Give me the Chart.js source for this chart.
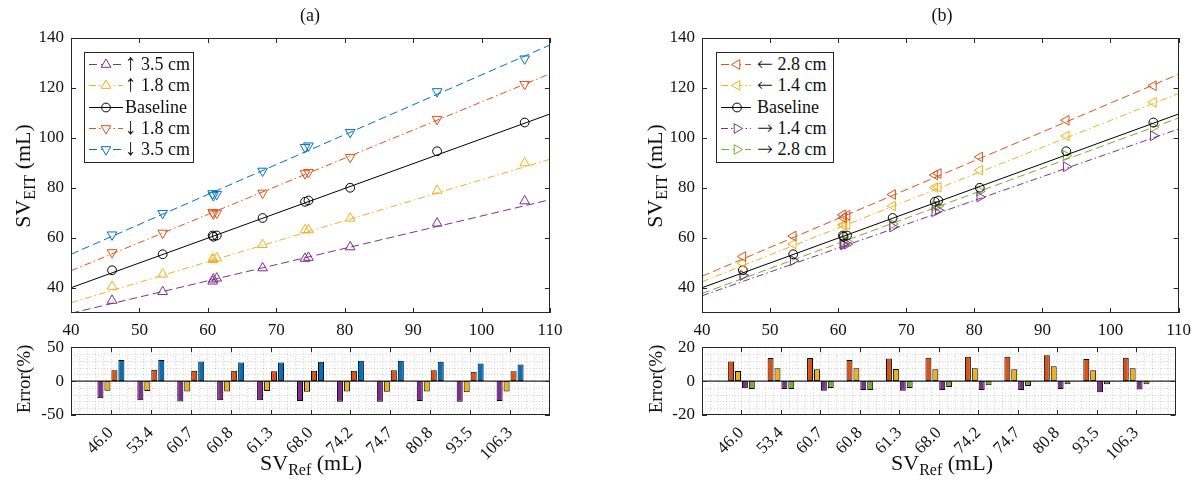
<!DOCTYPE html>
<html>
<head>
<meta charset="utf-8">
<script src="https://cdn.jsdelivr.net/npm/chart.js@4.4.1/dist/chart.umd.min.js"></script>
<style>
  body { margin:0; background:#fff; width:1198px; height:489px; position:relative; overflow:hidden;
         font-family:'Liberation Serif','Times New Roman',serif; color:#111; }
  canvas { position:absolute; }
  .t { position:absolute; white-space:nowrap; line-height:1; }
  .c { transform:translate(-50%,-50%); }
  .rot { transform:translate(-50%,-50%) rotate(-90deg); }
  .tit { font-size:18px; }
  .eje { font-size:22px; }
  .eje sub { font-size:16px; vertical-align:-5px; line-height:0; }
  .err { font-size:19px; }
  .leg { position:absolute; border:1px solid #262626; background:#fff; padding-top:1px; box-sizing:border-box; }
  .row { display:flex; align-items:center; height:21.3px; font-size:18px; white-space:nowrap; }
  .row svg { flex:none; }
  .fv { font-size:23px; line-height:0; }
  .fh { font-family:'DejaVu Sans',sans-serif; font-size:19px; line-height:0; font-weight:200; }
</style>
</head>
<body>
<canvas id="topA" width="600" height="340" style="left:0;top:0"></canvas>
<canvas id="errA" width="600" height="159" style="left:0;top:330px"></canvas>
<canvas id="topB" width="578" height="340" style="left:620px;top:0"></canvas>
<canvas id="errB" width="578" height="159" style="left:620px;top:330px"></canvas>

<div class="t c tit" style="left:310px;top:15px">(a)</div>
<div class="t c tit" style="left:942px;top:15px">(b)</div>
<div class="t rot eje" style="left:23px;top:176px">SV<sub>EIT</sub> (mL)</div>
<div class="t rot eje" style="left:655px;top:176px">SV<sub>EIT</sub> (mL)</div>
<div class="t rot err" style="left:23px;top:379px">Error(%)</div>
<div class="t rot err" style="left:655px;top:379px">Error(%)</div>
<div class="t c eje" style="left:311px;top:463px">SV<sub>Ref</sub> (mL)</div>
<div class="t c eje" style="left:942px;top:463px">SV<sub>Ref</sub> (mL)</div>

<div id="legA" class="leg" style="left:84px;top:52px;width:110px;height:111px"></div>
<div id="legB" class="leg" style="left:716px;top:52px;width:118px;height:111px"></div>

<script>
// valores
const svRef = [46.0, 53.4, 60.7, 60.8, 61.3, 68.0, 74.2, 74.7, 80.8, 93.5, 106.3];
const refLabels = ['46.0', '53.4', '60.7', '60.8', '61.3', '68.0', '74.2', '74.7', '80.8', '93.5', '106.3'];
const xTicksTop = [40, 50, 60, 70, 80, 90, 100, 110];
const yTicksTop = [40, 60, 80, 100, 120, 140];
const fitX = [40, 110];

const baseline = [47.1, 53.5, 61.0, 60.5, 61.0, 68.0, 74.5, 75.0, 80.1, 94.7, 106.2];
const fitBase = [40.1, 109.6];

// (a) desplazamiento vertical
const up35 = [35.0, 38.5, 42.7, 43.5, 43.9, 48.0, 51.8, 52.2, 56.4, 65.9, 74.8];
const up18 = [40.6, 45.5, 51.7, 51.3, 52.0, 57.3, 63.2, 63.2, 67.9, 79.0, 90.0];
const down18 = [54.2, 62.0, 70.3, 69.7, 70.0, 78.0, 85.8, 86.3, 92.3, 107.5, 121.5];
const down35 = [61.3, 69.9, 77.8, 77.0, 77.5, 86.8, 96.3, 96.9, 102.3, 118.6, 131.7];
const fitUp35 = [29.9, 75.3];
const fitUp18 = [34.1, 91.5];
const fitDown18 = [46.9, 125.7];
const fitDown35 = [53.5, 137.2];

const errUp35 = [-25.3, -28.1, -30.0, -28.1, -28.1, -29.5, -30.4, -30.4, -29.5, -30.4, -29.5];
const errUp18 = [-14.3, -14.7, -15.2, -15.2, -14.7, -15.7, -15.2, -15.7, -15.2, -16.6, -15.2];
const errDown18 = [16.1, 16.6, 15.2, 15.2, 14.7, 15.2, 15.2, 16.1, 16.1, 13.8, 14.7];
const errDown35 = [31.3, 31.3, 29.0, 27.6, 27.6, 28.6, 30.0, 30.0, 28.6, 25.8, 24.4];

// (b) desplazamiento horizontal
const left28 = [52.6, 60.8, 69.3, 68.1, 69.1, 77.4, 85.2, 85.8, 92.4, 107.1, 120.9];
const left14 = [49.9, 57.6, 65.3, 65.1, 65.4, 72.8, 80.2, 80.3, 87.1, 100.8, 114.3];
const right14 = [45.1, 51.0, 57.5, 57.3, 57.5, 64.4, 70.5, 71.1, 76.4, 88.5, 100.9];
const right28 = [44.9, 51.0, 58.6, 57.4, 58.6, 65.6, 72.7, 72.8, 78.7, 93.0, 104.3];
const fitLeft28 = [44.7, 125.5];
const fitLeft14 = [42.5, 117.8];
const fitRight14 = [36.9, 103.6];
const fitRight28 = [37.8, 108.0];

const errLeft28 = [11.6, 13.6, 13.6, 12.5, 13.3, 13.8, 14.4, 14.4, 15.3, 13.1, 13.8];
const errLeft14 = [5.9, 7.6, 7.0, 7.6, 7.2, 7.0, 7.6, 7.0, 8.8, 6.4, 7.6];
const errRight14 = [-4.2, -4.6, -5.7, -5.3, -5.7, -5.3, -5.3, -5.2, -4.6, -6.6, -5.0];
const errRight28 = [-4.6, -4.6, -4.0, -5.2, -4.0, -3.5, -2.4, -2.9, -1.8, -1.8, -1.8];

// colores matlab
const AZUL = '#0072BD', NARANJA = '#D95319', AMARILLO = '#EDB120', MORADO = '#7E2F8E', VERDE = '#77AC30';
const DASH = [8, 4], DASHDOT = [7, 3, 1.5, 3], SOLID = [];
const EJE = '#262626';
const FUENTE = "'Liberation Serif','Times New Roman',serif";

Chart.defaults.font.family = FUENTE;
Chart.defaults.font.size = 17;
Chart.defaults.color = '#111';

const seriesA = [
  { label: '↑ 3.5 cm', data: up35, fit: fitUp35, color: MORADO, marker: 'triangle', rot: 0, dash: DASH },
  { label: '↑ 1.8 cm', data: up18, fit: fitUp18, color: AMARILLO, marker: 'triangle', rot: 0, dash: DASHDOT },
  { label: 'Baseline', data: baseline, fit: fitBase, color: '#000', marker: 'circle', rot: 0, dash: SOLID },
  { label: '↓ 1.8 cm', data: down18, fit: fitDown18, color: NARANJA, marker: 'triangle', rot: 180, dash: DASHDOT },
  { label: '↓ 3.5 cm', data: down35, fit: fitDown35, color: AZUL, marker: 'triangle', rot: 180, dash: DASH }
];
const seriesB = [
  { label: '← 2.8 cm', data: left28, fit: fitLeft28, color: NARANJA, marker: 'triangle', rot: 270, dash: DASH },
  { label: '← 1.4 cm', data: left14, fit: fitLeft14, color: AMARILLO, marker: 'triangle', rot: 270, dash: DASHDOT },
  { label: 'Baseline', data: baseline, fit: fitBase, color: '#000', marker: 'circle', rot: 0, dash: SOLID },
  { label: '→ 1.4 cm', data: right14, fit: fitRight14, color: MORADO, marker: 'triangle', rot: 90, dash: DASHDOT },
  { label: '→ 2.8 cm', data: right28, fit: fitRight28, color: VERDE, marker: 'triangle', rot: 90, dash: DASH }
];
const barsA = [
  { label: '↑ 3.5 cm', err: errUp35, color: MORADO },
  { label: '↑ 1.8 cm', err: errUp18, color: AMARILLO },
  { label: '↓ 1.8 cm', err: errDown18, color: NARANJA },
  { label: '↓ 3.5 cm', err: errDown35, color: AZUL }
];
const barsB = [
  { label: '← 2.8 cm', err: errLeft28, color: NARANJA },
  { label: '← 1.4 cm', err: errLeft14, color: AMARILLO },
  { label: '→ 1.4 cm', err: errRight14, color: MORADO },
  { label: '→ 2.8 cm', err: errRight28, color: VERDE }
];

// caja con ticks hacia adentro (estilo matlab)
const cajaPlugin = {
  id: 'caja',
  afterDraw(chart) {
    const { ctx, chartArea: a, scales } = chart;
    const L = 5;
    ctx.save();
    ctx.strokeStyle = EJE;
    ctx.lineWidth = 1;
    ctx.beginPath();
    scales.x.ticks.forEach((t, i) => {
      if (t.label === '') return;
      const px = Math.round(scales.x.getPixelForTick(i)) + 0.5;
      ctx.moveTo(px, a.bottom); ctx.lineTo(px, a.bottom - L);
      ctx.moveTo(px, a.top); ctx.lineTo(px, a.top + L);
    });
    scales.y.ticks.forEach((t, i) => {
      const py = Math.round(scales.y.getPixelForTick(i)) + 0.5;
      ctx.moveTo(a.left, py); ctx.lineTo(a.left + L, py);
      ctx.moveTo(a.right, py); ctx.lineTo(a.right - L, py);
    });
    ctx.stroke();
    ctx.strokeRect(Math.round(a.left) + 0.5, Math.round(a.top) + 0.5, Math.round(a.width) - 1, Math.round(a.height) - 1);
    ctx.restore();
  }
};

function makeTop(id, series, anchoY, padDer) {
  const datasets = [];
  series.forEach(s => {
    datasets.push({
      type: 'line', label: s.label,
      data: fitX.map((x, i) => ({ x: x, y: s.fit[i] })),
      borderColor: s.color, borderWidth: 1, borderDash: s.dash, pointRadius: 0, fill: false
    });
    datasets.push({
      type: 'scatter', label: s.label,
      data: svRef.map((x, i) => ({ x: x, y: s.data[i] })),
      showLine: false,
      pointStyle: s.marker, pointRotation: s.rot,
      pointRadius: s.marker === 'circle' ? 4.4 : 5.6,
      pointBorderColor: s.color, pointBackgroundColor: 'rgba(0,0,0,0)', pointBorderWidth: 1
    });
  });
  new Chart(document.getElementById(id), {
    type: 'scatter',
    data: { datasets },
    options: {
      responsive: false, animation: false, events: [],
      layout: { padding: { top: 38, right: padDer, left: 0, bottom: 0 } },
      plugins: { legend: { display: false }, tooltip: { enabled: false } },
      scales: {
        x: {
          type: 'linear', min: 40, max: 110,
          afterBuildTicks: sc => { sc.ticks = xTicksTop.map(v => ({ value: v })); },
          afterFit: sc => { sc.height = 27; },
          grid: { display: false, drawTicks: false }, border: { display: false },
          ticks: { padding: 7, maxRotation: 0 }
        },
        y: {
          type: 'linear', min: 30, max: 140,
          afterBuildTicks: sc => { sc.ticks = yTicksTop.map(v => ({ value: v })); },
          afterFit: sc => { sc.width = anchoY; },
          grid: { display: false, drawTicks: false }, border: { display: false },
          ticks: { padding: 7 }
        }
      }
    },
    plugins: [cajaPlugin]
  });
}

function makeErr(id, series, yMin, yMax, yTicks, pasoMenor, anchoY, padDer) {
  const etiquetas = [''].concat(refLabels, ['']);
  const datasets = series.map(s => ({
    label: s.label,
    data: [null].concat(s.err, [null]),
    backgroundColor: s.color, borderColor: '#000', borderWidth: 1, borderSkipped: false,
    categoryPercentage: 0.7, barPercentage: 0.86
  }));
  // rejilla punteada menor + linea base en cero
  const rejilla = {
    id: 'rejilla',
    beforeDatasetsDraw(chart) {
      const { ctx, chartArea: a, scales } = chart;
      ctx.save();
      ctx.strokeStyle = 'rgba(0,0,0,0.17)';
      ctx.lineWidth = 1;
      ctx.setLineDash([1, 2]);
      ctx.beginPath();
      for (let v = yMin + pasoMenor; v < yMax - 1e-6; v += pasoMenor) {
        const py = Math.round(scales.y.getPixelForValue(v)) + 0.5;
        ctx.moveTo(a.left, py); ctx.lineTo(a.right, py);
      }
      for (let k = 1; k < 60; k++) {
        const px = Math.round(scales.x.getPixelForValue(k * 0.2)) + 0.5;
        ctx.moveTo(px, a.top); ctx.lineTo(px, a.bottom);
      }
      ctx.stroke();
      ctx.restore();
    },
    afterDatasetsDraw(chart) {
      const { ctx, chartArea: a, scales } = chart;
      const py = scales.y.getPixelForValue(0);
      ctx.save();
      ctx.strokeStyle = EJE;
      ctx.lineWidth = 1.4;
      ctx.beginPath(); ctx.moveTo(a.left, py); ctx.lineTo(a.right, py); ctx.stroke();
      ctx.restore();
    }
  };
  new Chart(document.getElementById(id), {
    type: 'bar',
    data: { labels: etiquetas, datasets },
    options: {
      responsive: false, animation: false, events: [],
      layout: { padding: { top: 13, right: padDer, left: 0, bottom: 0 } },
      plugins: { legend: { display: false }, tooltip: { enabled: false } },
      scales: {
        x: {
          type: 'category', offset: false,
          afterFit: sc => { sc.height = 74; },
          grid: { display: false, drawTicks: false }, border: { display: false },
          ticks: { autoSkip: false, minRotation: 45, maxRotation: 45, padding: 8 }
        },
        y: {
          type: 'linear', min: yMin, max: yMax,
          afterBuildTicks: sc => { sc.ticks = yTicks.map(v => ({ value: v })); },
          afterFit: sc => { sc.width = anchoY; },
          grid: { display: false, drawTicks: false }, border: { display: false },
          ticks: { padding: 7, callback: v => String(v) }
        }
      }
    },
    plugins: [rejilla, cajaPlugin]
  });
}

// leyenda html con muestra de linea y marcador
function makeLeyenda(id, series, anchoMuestra, finLinea, centroMarca) {
  const cont = document.getElementById(id);
  series.forEach(s => {
    const fila = document.createElement('div');
    fila.className = 'row';
    const dash = s.dash.length ? `stroke-dasharray="${s.dash.join(' ')}"` : '';
    let marca;
    if (s.marker === 'circle') {
      marca = `<circle cx="${centroMarca}" cy="10.5" r="4.4" fill="none" stroke="${s.color}" stroke-width="1"/>`;
    } else {
      const r = 5.6, cx = centroMarca, cy = 10.5;
      const p = [[cx, cy - r], [cx + r * 0.866, cy + r / 2], [cx - r * 0.866, cy + r / 2]].map(q => q.join(',')).join(' ');
      marca = `<polygon points="${p}" fill="#fff" stroke="${s.color}" stroke-width="1" transform="rotate(${s.rot} ${cx} ${cy})"/>`;
    }
    // flechas mas grandes, como en latex
    const texto = s.label
      .replace(/([↑↓])/, '<span class="fv">$1</span>')
      .replace(/([←→])/, '<span class="fh">$1</span>');
    fila.innerHTML = `<svg width="${anchoMuestra}" height="21"><line x1="4" y1="10.5" x2="${finLinea}" y2="10.5" stroke="${s.color}" stroke-width="1" ${dash}/>${marca}</svg><span>${texto}</span>`;
    cont.appendChild(fila);
  });
}

makeTop('topA', seriesA, 71, 50);
makeTop('topB', seriesB, 82, 16);
makeErr('errA', barsA, -50, 50, [-50, 0, 50], 10, 71, 50);
makeErr('errB', barsB, -20, 20, [-20, 0, 20], 4, 82, 16);
makeLeyenda('legA', seriesA, 40, 38, 21);
makeLeyenda('legB', seriesB, 40, 34, 20);
</script>
</body>
</html>
